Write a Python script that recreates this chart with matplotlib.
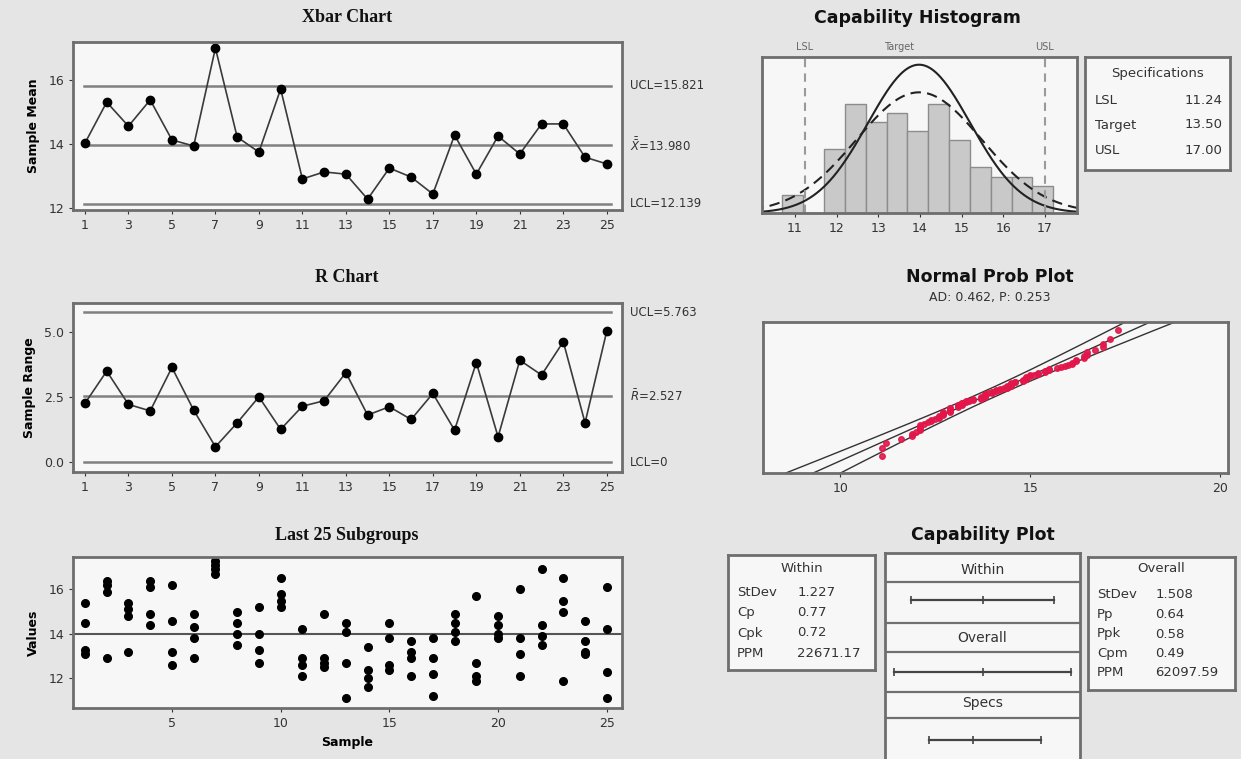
import numpy as np
import matplotlib
matplotlib.use("Agg")
import matplotlib.pyplot as plt
from statistics import NormalDist

# ---------------- values ----------------
samples = np.arange(1, 26)

xbar_values = [14.03, 15.31, 14.56, 15.38, 14.13, 13.94, 17.00, 14.22, 13.75, 15.72,
               12.91, 13.13, 13.06, 12.28, 13.25, 12.97, 12.44, 14.28, 13.06, 14.25,
               13.69, 14.63, 14.63, 13.59, 13.38]
xbar_limits = [15.821, 13.980, 12.139]
xbar_limit_labels = ["UCL=15.821", r"$\bar{\bar{X}}$=13.980", "LCL=12.139"]

range_values = [2.26, 3.50, 2.22, 1.97, 3.64, 2.00, 0.59, 1.51, 2.51, 1.26,
                2.15, 2.36, 3.44, 1.81, 2.13, 1.64, 2.64, 1.23, 3.83, 0.97,
                3.92, 3.35, 4.63, 1.51, 5.04]
range_limits = [5.763, 2.527, 0.0]
range_limit_labels = ["UCL=5.763", r"$\bar{R}$=2.527", "LCL=0"]

subgroups = [
    [15.4, 14.5, 13.3, 13.1], [16.4, 16.2, 15.9, 12.9], [15.4, 15.1, 14.8, 13.2],
    [16.4, 16.1, 14.9, 14.4], [16.2, 14.6, 13.2, 12.6], [14.9, 14.3, 13.8, 12.9],
    [17.3, 17.1, 16.9, 16.7], [15.0, 14.5, 14.0, 13.5], [15.2, 14.0, 13.3, 12.7],
    [16.5, 15.8, 15.5, 15.2], [14.2, 12.9, 12.6, 12.1], [14.9, 12.9, 12.7, 12.5],
    [14.5, 14.1, 12.7, 11.1], [13.4, 12.4, 12.0, 11.6], [14.5, 13.8, 12.6, 12.4],
    [13.7, 13.2, 12.9, 12.1], [13.8, 12.9, 12.2, 11.2], [14.9, 14.5, 14.1, 13.7],
    [15.7, 12.7, 12.1, 11.9], [14.8, 14.4, 14.0, 13.8], [16.0, 13.8, 13.1, 12.1],
    [16.9, 14.4, 13.9, 13.5], [16.5, 15.5, 15.0, 11.9], [14.6, 13.7, 13.2, 13.1],
    [16.1, 14.2, 12.3, 11.1],
]

hist_bin_centers = [10.95, 11.45, 11.95, 12.45, 12.95, 13.45, 13.95, 14.45,
                    14.95, 15.45, 15.95, 16.45, 16.95]
hist_counts = [2, 0, 7, 12, 10, 11, 9, 12, 8, 5, 4, 4, 3]
hist_bin_width = 0.5

process_mean = 13.98
sigma_within = 1.227
sigma_overall = 1.508
n_obs = 100

spec_names = ["LSL", "Target", "USL"]
spec_values = [11.24, 13.50, 17.00]
spec_labels = ["11.24", "13.50", "17.00"]

within_names = ["StDev", "Cp", "Cpk", "PPM"]
within_stats = ["1.227", "0.77", "0.72", "22671.17"]
overall_names = ["StDev", "Pp", "Ppk", "Cpm", "PPM"]
overall_stats = ["1.508", "0.64", "0.58", "0.49", "62097.59"]

ad_text = "AD: 0.462, P: 0.253"

# ---------------- style ----------------
BG = "#e5e5e5"
FACE = "#f7f7f7"
FRAME = "#6e6e6e"
LIMIT = "#808080"
plt.rcParams["font.family"] = ["DejaVu Sans"]

W, H = 1241, 759
fig = plt.figure(figsize=(W / 100, H / 100), dpi=100, facecolor=BG)


def box(l, t, r, b):
    return [l / W, 1 - b / H, (r - l) / W, (b - t) / H]


def frame(ax):
    ax.set_facecolor(FACE)
    for s in ax.spines.values():
        s.set_color(FRAME)
        s.set_linewidth(2)
    ax.tick_params(labelsize=9, colors="#333333", length=3, width=0.8)


def title(x, y, text, serif=False, size=13):
    fam = ["Liberation Serif"] if serif else ["DejaVu Sans"]
    fig.text(x / W, 1 - y / H, text, ha="center", va="center", fontsize=size,
             fontweight="bold", family=fam, color="#111111")


def control_chart(ax, values, limits, labels):
    frame(ax)
    for v in limits:
        ax.axhline(v, color=LIMIT, lw=1.8, xmin=0.02, xmax=0.98)
    ax.plot(samples, values, color="#3a3a3a", lw=1.2, marker="o", ms=6,
            mfc="black", mec="black")
    tr = ax.get_yaxis_transform()
    for v, lab in zip(limits, labels):
        ax.text(1.014, v, lab, transform=tr, ha="left", va="center",
                fontsize=8.5, color="#333333")
    ax.set_xlim(0.45, 25.7)
    ax.set_xticks(range(1, 26, 2))


# ---------------- Xbar chart ----------------
ax1 = fig.add_axes(box(73, 42, 622, 210))
control_chart(ax1, xbar_values, xbar_limits, xbar_limit_labels)
ax1.set_ylim(11.94, 17.19)
ax1.set_yticks([12, 14, 16])
ax1.set_ylabel("Sample Mean", fontsize=9, fontweight="bold", labelpad=6)
title(347, 18, "Xbar Chart", serif=True)

# ---------------- R chart ----------------
ax2 = fig.add_axes(box(73, 303, 622, 472))
control_chart(ax2, range_values, range_limits, range_limit_labels)
ax2.set_ylim(-0.38, 6.12)
ax2.set_yticks([0, 2.5, 5.0])
ax2.set_yticklabels(["0.0", "2.5", "5.0"])
ax2.set_ylabel("Sample Range", fontsize=9, fontweight="bold", labelpad=6)
title(347, 278, "R Chart", serif=True)

# ---------------- Last 25 subgroups ----------------
ax3 = fig.add_axes(box(73, 557, 622, 708))
frame(ax3)
ax3.axhline(process_mean, color="#555555", lw=1.5)
for s, vals in zip(samples, subgroups):
    ax3.plot([s] * len(vals), vals, "o", color="black", ms=5.5, ls="none")
ax3.set_xlim(0.45, 25.7)
ax3.set_ylim(10.67, 17.46)
ax3.set_xticks([5, 10, 15, 20, 25])
ax3.set_yticks([12, 14, 16])
ax3.set_ylabel("Values", fontsize=9, fontweight="bold", labelpad=6)
ax3.set_xlabel("Sample", fontsize=9, fontweight="bold", labelpad=4)
title(347, 535, "Last 25 Subgroups", serif=True)

# ---------------- Capability histogram ----------------
ax4 = fig.add_axes(box(762, 57, 1077, 213))
frame(ax4)
ax4.bar(hist_bin_centers, hist_counts, width=hist_bin_width, color="#c9c9c9",
        edgecolor="#8c8c8c", lw=1)
xs = np.linspace(10.0, 18.0, 300)
scale = n_obs * hist_bin_width
pdf_w = np.array([NormalDist(process_mean, sigma_within).pdf(v) for v in xs]) * scale
pdf_o = np.array([NormalDist(process_mean, sigma_overall).pdf(v) for v in xs]) * scale
ax4.plot(xs, pdf_w, color="#222222", lw=1.5)
ax4.plot(xs, pdf_o, color="#222222", lw=1.5, ls=(0, (5, 3)))
for name, v in zip(spec_names, spec_values):
    if name != "Target":
        ax4.axvline(v, color="#9a9a9a", lw=1.5, ls=(0, (4, 3)))
    ax4.text(v, 1.065, name, transform=ax4.get_xaxis_transform(), ha="center",
             va="center", fontsize=7, color="#666666")
ax4.set_xlim(10.21, 17.77)
ax4.set_ylim(0, 17.1)
ax4.set_yticks([])
ax4.set_xticks(range(11, 18))
title(917, 18, "Capability Histogram", size=12.5)

# specifications box
ax5 = fig.add_axes(box(1085, 57, 1230, 170))
frame(ax5)
ax5.set_xticks([])
ax5.set_yticks([])
ax5.set_xlim(0, 1)
ax5.set_ylim(113, 0)
ax5.text(0.5, 17, "Specifications", ha="center", va="center", fontsize=9.5, color="#333333")
for i, (name, lab) in enumerate(zip(spec_names, spec_labels)):
    ax5.text(0.07, 43 + 25 * i, name, ha="left", va="center", fontsize=9.5, color="#333333")
    ax5.text(0.95, 43 + 25 * i, lab, ha="right", va="center", fontsize=9.5, color="#333333")

# ---------------- Normal probability plot ----------------
ax6 = fig.add_axes(box(763, 322, 1228, 473))
frame(ax6)
data_sorted = np.sort(np.concatenate([np.array(g) for g in subgroups]))
n = len(data_sorted)
z_pts = np.array([NormalDist().inv_cdf((i + 1 - 0.3) / (n + 0.4)) for i in range(n)])
zz = np.linspace(-4, 4, 200)
fit = process_mean + sigma_overall * zz
half = 1.96 * sigma_overall * np.sqrt(1 / n + zz ** 2 / (2 * (n - 1)))
for curve in (fit, fit - half, fit + half):
    ax6.plot(curve, zz, color="#333333", lw=1)
ax6.plot(data_sorted, z_pts, "o", color="#e3164a", ms=4, alpha=0.9)
ax6.set_xlim(7.97, 20.2)
ax6.set_ylim(-3.11, 2.77)
ax6.set_yticks([])
ax6.set_xticks([10, 15, 20])
title(990, 277, "Normal Prob Plot", size=12.5)
fig.text(990 / W, 1 - 298 / H, ad_text, ha="center", va="center", fontsize=9, color="#333333")

# ---------------- Capability plot ----------------
title(983, 535, "Capability Plot", size=12.5)

# within stats
ax7 = fig.add_axes(box(728, 555, 875, 670))
frame(ax7)
ax7.set_xticks([])
ax7.set_yticks([])
ax7.set_xlim(0, 1)
ax7.set_ylim(115, 0)
ax7.text(0.5, 14, "Within", ha="center", va="center", fontsize=9.5, color="#333333")
for i, (name, val) in enumerate(zip(within_names, within_stats)):
    ax7.text(0.06, 37 + 20.5 * i, name, ha="left", va="center", fontsize=9.5, color="#333333")
    ax7.text(0.47, 37 + 20.5 * i, val, ha="left", va="center", fontsize=9.5, color="#333333")

# overall stats
ax8 = fig.add_axes(box(1088, 557, 1235, 690))
frame(ax8)
ax8.set_xticks([])
ax8.set_yticks([])
ax8.set_xlim(0, 1)
ax8.set_ylim(133, 0)
ax8.text(0.5, 12, "Overall", ha="center", va="center", fontsize=9.5, color="#333333")
for i, (name, val) in enumerate(zip(overall_names, overall_stats)):
    ax8.text(0.06, 38 + 19.5 * i, name, ha="left", va="center", fontsize=9.5, color="#333333")
    ax8.text(0.46, 38 + 19.5 * i, val, ha="left", va="center", fontsize=9.5, color="#333333")

# interval panel
ax9 = fig.add_axes(box(885, 553, 1080, 765))
frame(ax9)
ax9.set_xticks([])
ax9.set_yticks([])
ax9.set_xlim(process_mean - 5.0, process_mean + 5.0)
ax9.set_ylim(10.6, 0)
for y in (1.45, 3.5, 4.95, 6.95, 8.25):
    ax9.axhline(y, color="#707070", lw=1.6)
row_names = ["Within", "Overall", "Specs"]
row_label_y = [0.85, 4.25, 7.5]
row_line_y = [2.35, 5.95, 9.35]
intervals = [
    (process_mean - 3 * sigma_within, process_mean, process_mean + 3 * sigma_within),
    (process_mean - 3 * sigma_overall, process_mean, process_mean + 3 * sigma_overall),
    (spec_values[0], spec_values[1], spec_values[2]),
]
for name, ly, iy, (lo, mid, hi) in zip(row_names, row_label_y, row_line_y, intervals):
    ax9.text(process_mean, ly, name, ha="center", va="center", fontsize=10, color="#333333")
    ax9.plot([lo, hi], [iy, iy], color="#444444", lw=1.6)
    ax9.plot([lo, mid, hi], [iy, iy, iy], "|", color="#444444", ms=6, mew=1.2)

fig.savefig("out.png", dpi=100, facecolor=BG)
